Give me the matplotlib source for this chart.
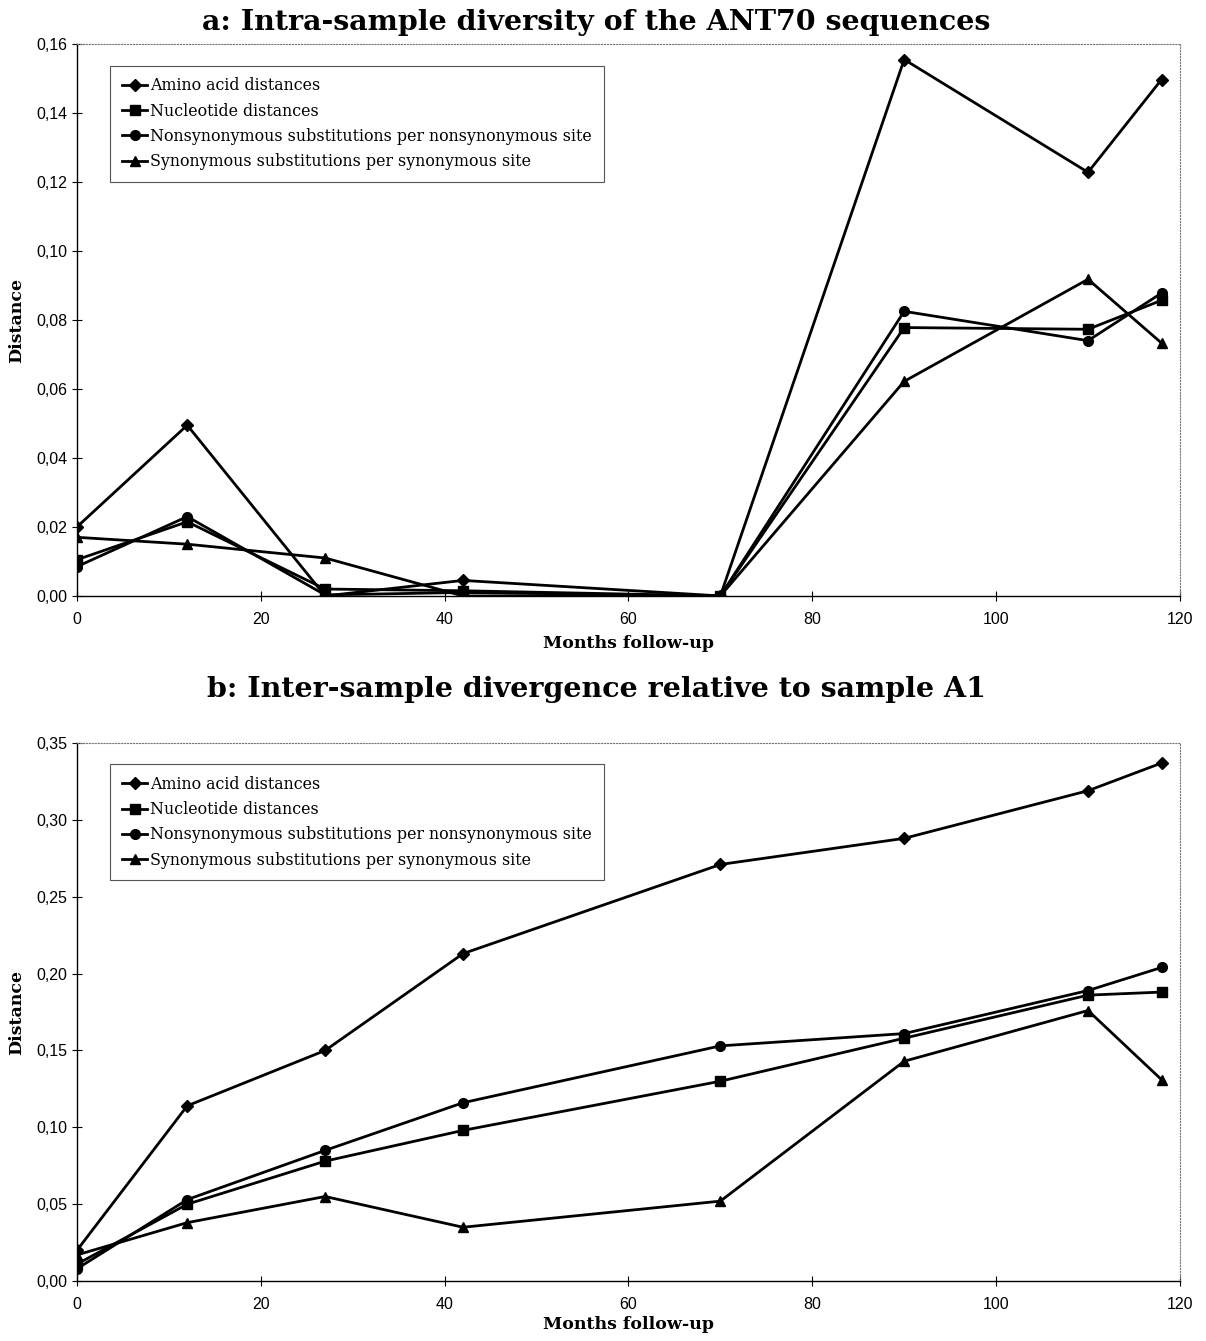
import matplotlib.pyplot as plt
from matplotlib.ticker import FuncFormatter, MultipleLocator

months = [0, 12, 27, 42, 70, 90, 110, 118]

labels = [
    "Amino acid distances",
    "Nucleotide distances",
    "Nonsynonymous substitutions per nonsynonymous site",
    "Synonymous substitutions per synonymous site",
]
markers = ["D", "s", "o", "^"]

# panel a: intra-sample diversity
a_amino = [0.020, 0.0495, 0.000, 0.0045, 0.000, 0.1555, 0.1228, 0.1497]
a_nuc = [0.0105, 0.0215, 0.0020, 0.0015, 0.000, 0.0778, 0.0773, 0.0857]
a_nonsyn = [0.0085, 0.0230, 0.0003, 0.0010, 0.000, 0.0825, 0.0740, 0.0878]
a_syn = [0.0170, 0.0150, 0.0110, 0.0000, 0.000, 0.0622, 0.0918, 0.0733]

# panel b: inter-sample divergence relative to A1
b_amino = [0.020, 0.114, 0.150, 0.213, 0.271, 0.288, 0.319, 0.337]
b_nuc = [0.011, 0.050, 0.078, 0.098, 0.130, 0.158, 0.186, 0.188]
b_nonsyn = [0.008, 0.053, 0.085, 0.116, 0.153, 0.161, 0.189, 0.204]
b_syn = [0.017, 0.038, 0.055, 0.035, 0.052, 0.143, 0.176, 0.131]

titles = ["a: Intra-sample diversity of the ANT70 sequences",
          "b: Inter-sample divergence relative to sample A1"]

serif = ["DejaVu Serif"]
sans = ["Liberation Sans"]

comma = FuncFormatter(lambda v, p: f"{v:.2f}".replace(".", ","))

fig = plt.figure(figsize=(12.06, 13.41), dpi=100)
ax_a = fig.add_axes([0.0638, 0.5556, 0.9146, 0.4116])
ax_b = fig.add_axes([0.0638, 0.0447, 0.9146, 0.4012])

panels = [
    (ax_a, [a_amino, a_nuc, a_nonsyn, a_syn], 0.16, 0.02, 10, 6),
    (ax_b, [b_amino, b_nuc, b_nonsyn, b_syn], 0.35, 0.05, 33, 3),
]

for (ax, series, ymax, ystep, tpad, xpad), title in zip(panels, titles):
    for vals, lab, m in zip(series, labels, markers):
        ax.plot(months, vals, color="black", lw=2, marker=m,
                ms=7 if m != "D" else 6, label=lab)
    ax.set_xlim(0, 120)
    ax.set_ylim(0, ymax)
    ax.xaxis.set_major_locator(MultipleLocator(20))
    ax.yaxis.set_major_locator(MultipleLocator(ystep))
    ax.yaxis.set_major_formatter(comma)
    ax.tick_params(direction="inout", length=7, width=0.8, labelsize=11.5)
    ax.tick_params(axis="x", pad=8)
    for t in ax.get_xticklabels() + ax.get_yticklabels():
        t.set_family(sans)
    ax.spines["left"].set_linewidth(1.0)
    ax.spines["bottom"].set_linewidth(1.0)
    for s in ["top", "right"]:
        ax.spines[s].set_linestyle(":")
        ax.spines[s].set_color("#777777")
        ax.spines[s].set_linewidth(0.8)
    ax.set_title(title, family=serif, fontweight="bold", fontsize=20.5,
                 pad=tpad, x=0.471)
    ax.set_xlabel("Months follow-up", family=serif, fontweight="bold",
                  fontsize=12.5, labelpad=xpad)
    ax.set_ylabel("Distance", family=serif, fontweight="bold", fontsize=12.5,
                  labelpad=8)
    leg = ax.legend(loc="upper left", bbox_to_anchor=(0.03, 0.961),
                    borderaxespad=0,
                    prop={"family": serif, "size": 11.4},
                    handlelength=1.6, handletextpad=0.2, labelspacing=0.52,
                    fancybox=False, framealpha=1, borderpad=0.75)
    leg.get_frame().set_edgecolor("#555555")
    leg.get_frame().set_linewidth(0.8)

fig.savefig("out.png", dpi=100)
